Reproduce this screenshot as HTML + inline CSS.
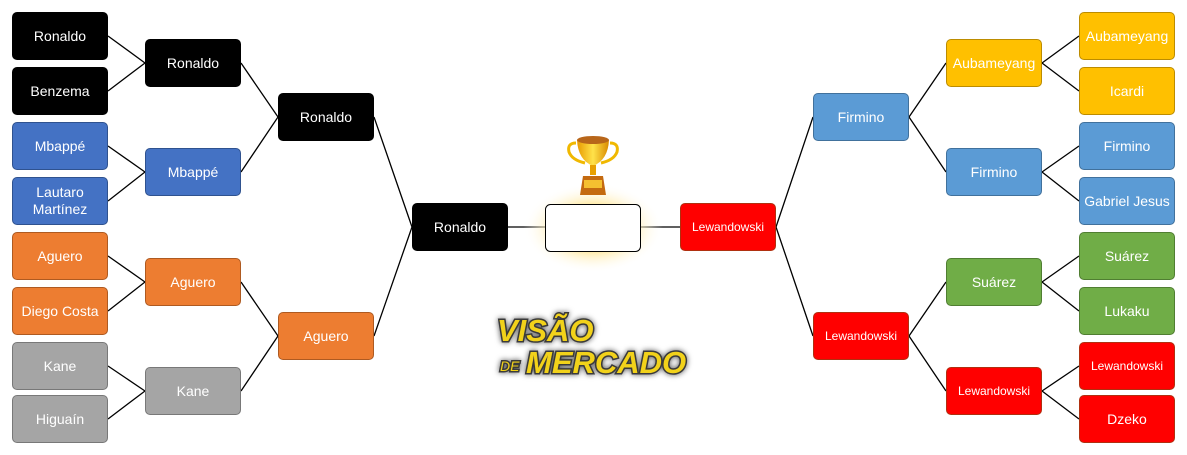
<!DOCTYPE html>
<html><head><meta charset="utf-8"><style>
body{margin:0;width:1187px;height:455px;background:#fff;position:relative;overflow:hidden;font-family:"Liberation Sans",sans-serif}
.b{position:absolute;width:96px;height:48px;border-radius:5px;color:#fff;display:flex;align-items:center;justify-content:center;text-align:center;font-size:14px;line-height:17px;box-sizing:border-box;border:1px solid rgba(0,0,0,.35)}
.k{background:#000}.u{background:#4472c4;border-color:#2f528f}.o{background:#ed7d31;border-color:#ae5a21}.g{background:#a5a5a5;border-color:#787878}
.y{background:#ffc000;border-color:#bc8c00}.l{background:#5b9bd5;border-color:#41719c}.n{background:#70ad47;border-color:#507e32}.r{background:#ff0000;border-color:#b03010;font-size:12px}
svg{position:absolute;left:0;top:0}
</style></head><body>
<svg width="1187" height="455">
<g stroke="#000" stroke-width="1.3" fill="none">
<path d="M108 36L145 63M108 91L145 63M108 146L145 172M108 201L145 172M108 256L145 282M108 311L145 282M108 366L145 391M108 419L145 391"/>
<path d="M241 63L278 117M241 172L278 117M241 282L278 336M241 391L278 336"/>
<path d="M374 117L412 227M374 336L412 227M508 227L545 227M641 227L680 227"/>
<path d="M776 227L813 117M776 227L813 336"/>
<path d="M909 117L946 63M909 117L946 172M909 336L946 282M909 336L946 391"/>
<path d="M1042 63L1079 36M1042 63L1079 91M1042 172L1079 146M1042 172L1079 201M1042 282L1079 256M1042 282L1079 311M1042 391L1079 366M1042 391L1079 419"/>
</g>
<defs><radialGradient id="gl"><stop offset="0.5" stop-color="#ffe9a0"/><stop offset="1" stop-color="#fff" stop-opacity="0"/></radialGradient>
<linearGradient id="tg" x1="0" x2="1"><stop offset="0" stop-color="#e89a00"/><stop offset=".5" stop-color="#ffe24a"/><stop offset="1" stop-color="#d98a00"/></linearGradient></defs>
<ellipse cx="593" cy="228" rx="70" ry="45" fill="url(#gl)"/>
<rect x="545.5" y="204.5" width="95" height="47" rx="5" fill="#fff" stroke="#000" stroke-width="1"/>
<g>
<path d="M576 143 Q567 143 569 152 Q572 160 585 163" stroke="#f0b800" stroke-width="3" fill="none"/>
<path d="M610 143 Q619 143 617 152 Q614 160 601 163" stroke="#f0b800" stroke-width="3" fill="none"/>
<path d="M577 140 L609 140 Q608 160 593 166 Q578 160 577 140Z" fill="url(#tg)"/>
<ellipse cx="593" cy="140" rx="16" ry="4" fill="#b8661a"/>
<rect x="590" y="165" width="6" height="10" fill="#e8a000"/>
<path d="M583 176 L603 176 L606 195 L580 195Z" fill="#c46a10"/>
<rect x="584" y="180" width="18" height="8" fill="#f5c030"/>
</g>
<g font-family="Liberation Sans" font-weight="bold" font-style="italic" fill="#f2d21a" stroke="#3a3a3a" stroke-width="3" paint-order="stroke" style="filter:drop-shadow(0 0 3px #555)">
<text x="497" y="341" font-size="31">VISÃO</text>
<text x="500" y="371" font-size="14" font-weight="normal">DE</text>
<text x="526" y="373" font-size="31">MERCADO</text>
</g>
</svg>
<div class="b k" style="left:12px;top:12px">Ronaldo</div>
<div class="b k" style="left:12px;top:67px">Benzema</div>
<div class="b u" style="left:12px;top:122px">Mbappé</div>
<div class="b u" style="left:12px;top:177px">Lautaro<br>Martínez</div>
<div class="b o" style="left:12px;top:232px">Aguero</div>
<div class="b o" style="left:12px;top:287px">Diego Costa</div>
<div class="b g" style="left:12px;top:342px">Kane</div>
<div class="b g" style="left:12px;top:395px">Higuaín</div>
<div class="b k" style="left:145px;top:39px">Ronaldo</div>
<div class="b u" style="left:145px;top:148px">Mbappé</div>
<div class="b o" style="left:145px;top:258px">Aguero</div>
<div class="b g" style="left:145px;top:367px">Kane</div>
<div class="b k" style="left:278px;top:93px">Ronaldo</div>
<div class="b o" style="left:278px;top:312px">Aguero</div>
<div class="b k" style="left:412px;top:203px">Ronaldo</div>
<div class="b r" style="left:680px;top:203px">Lewandowski</div>
<div class="b l" style="left:813px;top:93px">Firmino</div>
<div class="b r" style="left:813px;top:312px">Lewandowski</div>
<div class="b y" style="left:946px;top:39px">Aubameyang</div>
<div class="b l" style="left:946px;top:148px">Firmino</div>
<div class="b n" style="left:946px;top:258px">Suárez</div>
<div class="b r" style="left:946px;top:367px">Lewandowski</div>
<div class="b y" style="left:1079px;top:12px">Aubameyang</div>
<div class="b y" style="left:1079px;top:67px">Icardi</div>
<div class="b l" style="left:1079px;top:122px">Firmino</div>
<div class="b l" style="left:1079px;top:177px">Gabriel Jesus</div>
<div class="b n" style="left:1079px;top:232px">Suárez</div>
<div class="b n" style="left:1079px;top:287px">Lukaku</div>
<div class="b r" style="left:1079px;top:342px">Lewandowski</div>
<div class="b r" style="left:1079px;top:395px;font-size:14px">Dzeko</div>
</body></html>
